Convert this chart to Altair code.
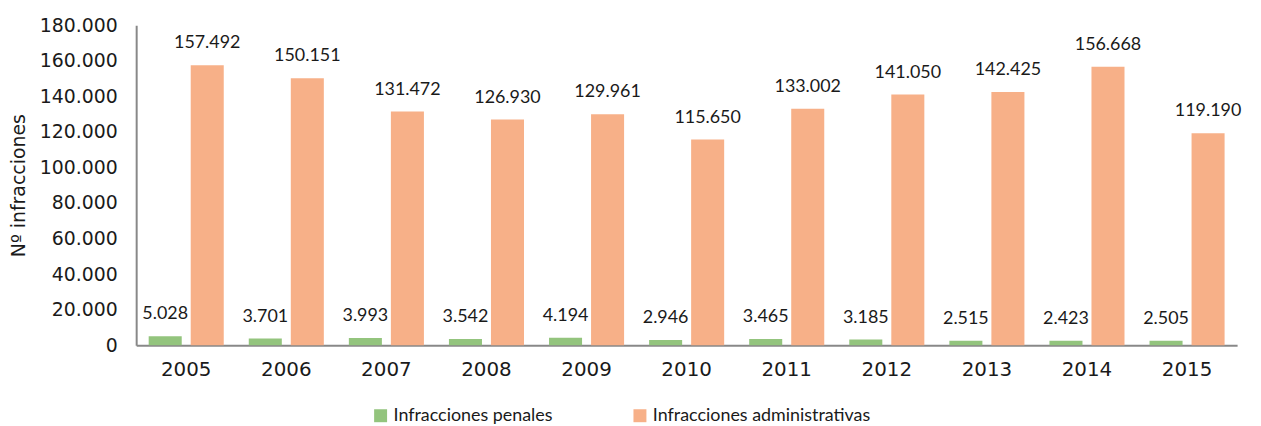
import altair as alt
import pandas as pd

years = ["2005", "2006", "2007", "2008", "2009", "2010", "2011", "2012", "2013", "2014", "2015"]
penales = [5028, 3701, 3993, 3542, 4194, 2946, 3465, 3185, 2515, 2423, 2505]
administrativas = [157492, 150151, 131472, 126930, 129961, 115650, 133002, 141050, 142425, 156668, 119190]
series = ["Infracciones penales", "Infracciones administrativas"]
colors = ["#93C47D", "#F7B088"]
y_ticks = [0, 20000, 40000, 60000, 80000, 100000, 120000, 140000, 160000, 180000]

rows = []
for i, y in enumerate(years):
    rows.append({"year": y, "serie": series[0], "value": penales[i]})
    rows.append({"year": y, "serie": series[1], "value": administrativas[i]})
df = pd.DataFrame(rows)
df["label"] = df["value"].map(lambda v: f"{v:,}".replace(",", "."))

FONT = "Lato"
WIDE = "DejaVu Sans"

x_axis = alt.Axis(labelAngle=0, labelFontSize=20, labelFont=WIDE, labelColor="#1a1a1a",
                  labelPadding=15, ticks=False, domainColor="#888888", domainWidth=2)
y_axis = alt.Axis(values=y_ticks, grid=False, ticks=False, domainColor="#888888", domainWidth=2,
                  labelOverlap=False, labelFlush=False,
                  labelFontSize=19, labelFont=WIDE, labelColor="#1a1a1a", labelPadding=19,
                  labelExpr="replace(format(datum.value, ','), /,/g, '.')",
                  titleFontSize=19, titleFont=WIDE, titleFontWeight="normal", titleColor="#1a1a1a",
                  titleX=-118, titleY=161, titleAngle=-90, titleAlign="center", titleBaseline="middle")

x_enc = alt.X("year:N", title=None, sort=years,
              scale=alt.Scale(paddingInner=0.25, paddingOuter=0.125), axis=x_axis)
xo_enc = alt.XOffset("serie:N", sort=series, scale=alt.Scale(paddingInner=0.214, paddingOuter=0))
y_enc = alt.Y("value:Q", title="Nº infracciones",
              scale=alt.Scale(domain=[0, 180000], nice=False), axis=y_axis)

base = alt.Chart(df)

bars = base.mark_bar().encode(
    x=x_enc,
    xOffset=xo_enc,
    y=y_enc,
    color=alt.Color("serie:N", sort=series, scale=alt.Scale(domain=series, range=colors),
                    legend=alt.Legend(title=None, orient="none", legendX=237, legendY=384,
                                      direction="horizontal", symbolType="square", symbolSize=170,
                                      symbolStrokeWidth=0, labelFontSize=18, labelFont=FONT,
                                      labelColor="#1a1a1a", columnPadding=78, labelOffset=4,
                                      labelLimit=400)),
)

labels = base.mark_text(baseline="middle", align="center", dy=-22, fontSize=18, font=FONT, color="#1a1a1a").encode(
    x=x_enc,
    xOffset=xo_enc,
    y=y_enc,
    text="label:N",
)

chart = alt.layer(bars, labels).properties(
    width=1108, height=322,
    autosize=alt.AutoSizeParams(type="none"),
    padding={"left": 129, "top": 16, "right": 16, "bottom": 80},
).configure_view(stroke=None).configure_axis(labelOverlap=False)

chart.save("out.html", embed_options={"renderer": "svg", "actions": False})
